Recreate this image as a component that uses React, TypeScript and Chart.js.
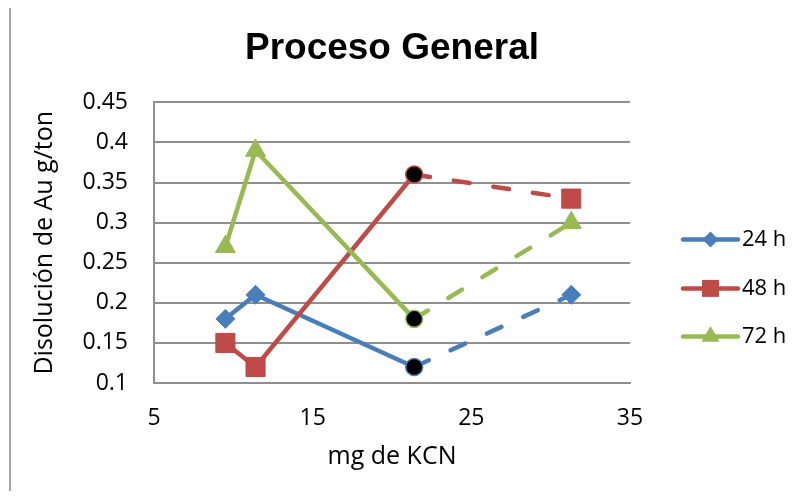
import React, { useEffect, useRef } from 'react';
import { Chart, registerables } from 'chart.js';

Chart.register(...registerables);

const chartTitle = 'Proceso General';
const xAxisTitle = 'mg de KCN';
const yAxisTitle = 'Disolución de Au g/ton';
const seriesNames = ['24 h', '48 h', '72 h'];
const kcnDoses = [9.5, 11.4, 21.4, 31.3];
const dissolution24h = [0.18, 0.21, 0.12, 0.21];
const dissolution48h = [0.15, 0.12, 0.36, 0.33];
const dissolution72h = [0.27, 0.39, 0.18, 0.3];
const xTickValues = [5, 15, 25, 35];
const xTickLabels = ['5', '15', '25', '35'];
const yTickValues = [0.1, 0.15, 0.2, 0.25, 0.3, 0.35, 0.4, 0.45];
const yTickLabels = ['0.1', '0.15', '0.2', '0.25', '0.3', '0.35', '0.4', '0.45'];

const seriesColors = ['#4A7EBB', '#BE4B48', '#98B954'];
const markerStyles = ['rectRot', 'rect', 'triangle'];
const markerRadii = [9.5, 13.5, 11.5];
const FONT = '"Open Sans", "Noto Sans", sans-serif';
const GRID = '#8f8f8f';

function drawMarker(ctx: CanvasRenderingContext2D, style: string, x: number, y: number, r: number) {
  ctx.beginPath();
  if (style === 'rectRot') {
    ctx.moveTo(x - r, y);
    ctx.lineTo(x, y - r);
    ctx.lineTo(x + r, y);
    ctx.lineTo(x, y + r);
  } else if (style === 'rect') {
    const s = r * Math.SQRT1_2;
    ctx.rect(x - s, y - s, 2 * s, 2 * s);
  } else {
    ctx.moveTo(x, y - r);
    ctx.lineTo(x + Math.sin((2 * Math.PI) / 3) * r, y + r / 2);
    ctx.lineTo(x - Math.sin((2 * Math.PI) / 3) * r, y + r / 2);
  }
  ctx.closePath();
  ctx.fill();
}

const sideLegend = {
  id: 'sideLegend',
  afterDraw(chart: any) {
    const { ctx, chartArea } = chart;
    const x0 = chartArea.right + 53;
    const x1 = chartArea.right + 108;
    const rows = [137, 186, 234];
    const sizes = [8, 12, 10.5];
    chart.data.datasets.forEach((ds: any, i: number) => {
      const y = chartArea.top + rows[i];
      ctx.save();
      ctx.strokeStyle = seriesColors[i];
      ctx.lineWidth = 4.5;
      ctx.lineCap = 'round';
      ctx.beginPath();
      ctx.moveTo(x0, y);
      ctx.lineTo(x1, y);
      ctx.stroke();
      ctx.fillStyle = seriesColors[i];
      drawMarker(ctx, markerStyles[i], (x0 + x1) / 2, y, sizes[i]);
      ctx.fillStyle = '#000';
      ctx.font = `22px ${FONT}`;
      ctx.textBaseline = 'middle';
      ctx.textAlign = 'left';
      ctx.fillText(ds.label, chartArea.right + 112, y);
      ctx.restore();
    });
  },
};

function makeDataset(i: number, values: number[]) {
  const c = seriesColors[i];
  const st = markerStyles[i];
  const r = markerRadii[i];
  return {
    label: seriesNames[i],
    data: kcnDoses.map((x, k) => ({ x, y: values[k] })),
    borderColor: c,
    backgroundColor: c,
    borderWidth: 4.5,
    borderCapStyle: 'round',
    borderJoinStyle: 'round',
    tension: 0,
    order: 2 - i,
    pointStyle: [st, st, 'circle', st],
    pointRadius: [r, r, 8.5, r],
    pointBackgroundColor: [c, c, '#000', c],
    pointBorderColor: c,
    pointBorderWidth: [1, 1, 1.5, 1],
    segment: {
      borderDash: (ctx: any) => (ctx.p0DataIndex === 2 ? [16, 24] : undefined),
    },
  };
}

export default function App() {
  const ref = useRef<HTMLCanvasElement>(null);
  useEffect(() => {
    if (!ref.current) return;
    const chart = new Chart(ref.current, {
      type: 'line',
      data: {
        datasets: [
          makeDataset(0, dissolution24h),
          makeDataset(1, dissolution48h),
          makeDataset(2, dissolution72h),
        ] as any,
      },
      options: {
        animation: false,
        responsive: false,
        maintainAspectRatio: false,
        devicePixelRatio: 1,
        layout: { padding: { left: 0, right: 173, top: 0, bottom: 0 } },
        plugins: {
          legend: { display: false },
          tooltip: { enabled: false },
          title: {
            display: true,
            text: chartTitle,
            fullSize: false,
            color: '#000',
            font: { family: '"Liberation Sans", Arial, sans-serif', size: 37, weight: 'bold' },
            padding: { top: 19, bottom: 31 },
          },
        },
        scales: {
          x: {
            type: 'linear',
            min: 5,
            max: 35,
            afterBuildTicks: (s: any) => {
              s.ticks = xTickValues.map((v) => ({ value: v }));
            },
            afterFit: (s: any) => {
              s.height = 108;
            },
            grid: { display: false, drawTicks: false },
            border: { display: true, color: GRID, width: 2 },
            ticks: {
              padding: 22,
              maxRotation: 0,
              color: '#000',
              font: { family: FONT, size: 23 },
              callback: (_v: any, i: number) => xTickLabels[i],
            },
            title: {
              display: true,
              text: xAxisTitle,
              color: '#000',
              font: { family: FONT, size: 25 },
              padding: { top: 0, bottom: 19 },
            },
          },
          y: {
            type: 'linear',
            min: 0.1,
            max: 0.45,
            afterBuildTicks: (s: any) => {
              s.ticks = yTickValues.map((v) => ({ value: v }));
            },
            afterFit: (s: any) => {
              s.width = 143;
            },
            grid: { color: GRID, lineWidth: 2, drawTicks: false },
            border: { display: true, color: GRID, width: 2 },
            ticks: {
              padding: 26,
              color: '#000',
              font: { family: FONT, size: 23 },
              callback: (_v: any, i: number) => yTickLabels[i],
            },
            title: {
              display: true,
              text: yAxisTitle,
              color: '#000',
              font: { family: FONT, size: 25 },
              padding: { top: 19, bottom: 0 },
            },
          },
        },
      } as any,
      plugins: [sideLegend],
    });
    return () => chart.destroy();
  }, []);

  return (
    <div
      style={{
        marginTop: -2,
        marginLeft: 1,
        borderLeft: '2px solid #a6a6a6',
        borderTop: '2px solid #a6a6a6',
        width: 792,
        height: 483,
      }}
    >
      <canvas ref={ref} width={792} height={483} style={{ display: 'block', width: 792, height: 483 }} />
    </div>
  );
}
